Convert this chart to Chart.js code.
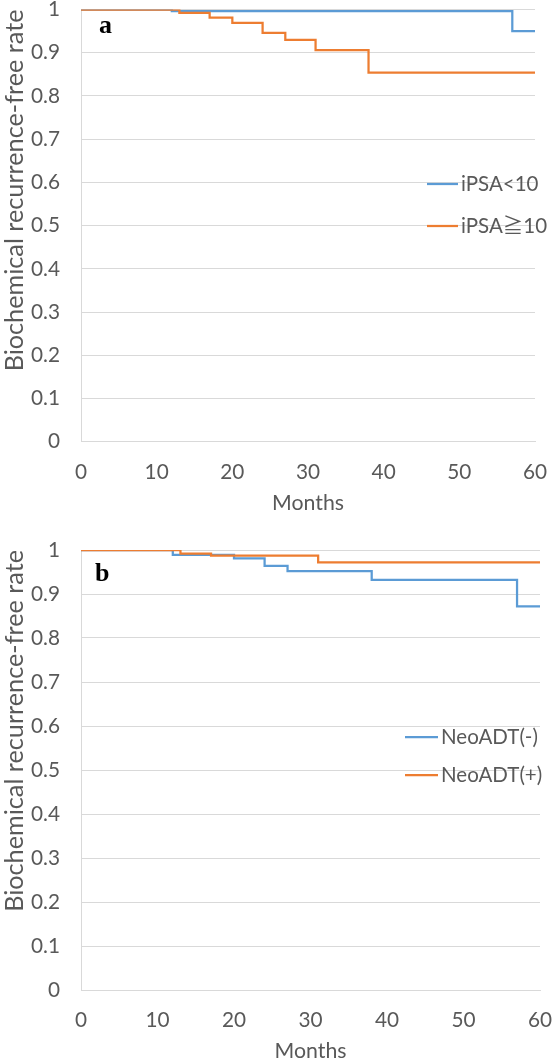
<!DOCTYPE html>
<html><head><meta charset="utf-8">
<script src="https://cdn.jsdelivr.net/npm/chart.js@4"></script>
<style>
html,body{margin:0;padding:0;background:#fff;}
#wa{position:absolute;left:0;top:0;width:554px;height:520px;}
#wb{position:absolute;left:0;top:520px;width:554px;height:541px;}
</style></head><body>
<div id="wa"><canvas id="ca"></canvas></div>
<div id="wb"><canvas id="cb"></canvas></div>
<script>
// ---- data ----
const xTickLabels = ['0', '10', '20', '30', '40', '50', '60'];
const yTickLabels = ['0', '0.1', '0.2', '0.3', '0.4', '0.5', '0.6', '0.7', '0.8', '0.9', '1'];

const monthsA1 = [0, 12, 57, 60];
const rateA1   = [1, 0.996, 0.95, 0.95];
const monthsA2 = [0, 13, 17, 20, 24, 27, 31, 38, 60];
const rateA2   = [1, 0.992, 0.981, 0.969, 0.946, 0.930, 0.906, 0.854, 0.854];

const monthsB1 = [0, 12, 20, 24, 27, 38, 57, 60];
const rateB1   = [1, 0.989, 0.981, 0.964, 0.952, 0.932, 0.872, 0.872];
const monthsB2 = [0, 13, 17, 31, 60];
const rateB2   = [1, 0.992, 0.987, 0.972, 0.972];

const seriesNamesA = ['iPSA<10', 'iPSA≧10'];
const seriesNamesB = ['NeoADT(-)', 'NeoADT(+)'];
const panelNames = ['a', 'b'];
const xTitle = 'Months';
const yTitle = 'Biochemical recurrence-free rate';

// ---- styling ----
const FONT = 'Lato, "Noto Sans CJK JP", sans-serif';
const TXT = '#595959';
const GRID = '#d9d9d9';
const BLUE = '#5B9BD5';
const ORANGE = '#ED7D31';

// font sizes chosen so text widths match the reference
const mctx = document.createElement('canvas').getContext('2d');
function fitSize(text, target) {
  mctx.font = '100px ' + FONT;
  return 100 * target / mctx.measureText(text).width;
}
const tickSize = fitSize('0.9', 29);
const legendSize = fitSize('NeoADT(-)', 97);
const xTitleSize = fitSize('Months', 72);
const yTitleSize = fitSize(yTitle, 362);

const toXY = (xs, ys) => xs.map((x, i) => ({x: x, y: ys[i]}));

const overlay = {
  id: 'overlay',
  afterDraw(chart, args, o) {
    const ctx = chart.ctx;
    ctx.save();
    ctx.font = 'bold 26px "Liberation Serif", serif';
    ctx.fillStyle = '#000';
    ctx.textBaseline = 'alphabetic';
    ctx.textAlign = 'left';
    ctx.fillText(o.panel, o.panelX, o.panelY);
    ctx.font = legendSize + 'px ' + FONT;
    ctx.textBaseline = 'middle';
    chart.data.datasets.forEach((ds, i) => {
      const y = o.legendY[i];
      ctx.strokeStyle = ds.borderColor;
      ctx.lineWidth = 2.25;
      ctx.beginPath();
      ctx.moveTo(o.lineX0, y);
      ctx.lineTo(o.lineX1, y);
      ctx.stroke();
      ctx.fillStyle = TXT;
      ctx.fillText(ds.label, o.textX, y);
    });
    ctx.restore();
  }
};

function makeChart(id, names, d1, d2, cfg) {
  return new Chart(document.getElementById(id), {
    type: 'line',
    data: {
      datasets: [
        {label: names[0], data: d1, borderColor: BLUE, backgroundColor: BLUE, stepped: true, order: 1},
        {label: names[1], data: d2, borderColor: ORANGE, backgroundColor: ORANGE, stepped: true, order: 0}
      ]
    },
    options: {
      responsive: true,
      maintainAspectRatio: false,
      animation: false,
      events: [],
      layout: {padding: {left: 0, right: cfg.padR, top: cfg.padT, bottom: 0}},
      elements: {point: {radius: 0}, line: {borderWidth: 2.25, tension: 0}},
      plugins: {
        legend: {display: false},
        tooltip: {enabled: false},
        overlay: cfg.overlay
      },
      scales: {
        x: {
          type: 'linear', min: 0, max: 60,
          ticks: {stepSize: 10, autoSkip: false, maxRotation: 0, padding: 30.3 - 0.6 * tickSize, color: TXT,
                  font: {family: FONT, size: tickSize}, callback: (v, i) => xTickLabels[i]},
          grid: {color: 'rgba(0,0,0,0)', drawTicks: false},
          border: {display: true, color: GRID, width: 1},
          title: {display: true, text: xTitle, color: TXT,
                  font: {family: FONT, size: xTitleSize, lineHeight: 1},
                  padding: {top: 0, bottom: cfg.xTitleGap - xTitleSize / 2}},
          afterFit(s) { s.height = cfg.xH; s.paddingLeft = 0; s.paddingRight = 0; }
        },
        y: {
          min: 0, max: 1,
          ticks: {stepSize: 0.1, padding: 21, color: TXT, font: {family: FONT, size: tickSize},
                  callback: (v, i) => yTickLabels[i]},
          grid: {color: GRID, drawTicks: false},
          border: {display: true, color: GRID, width: 1},
          title: {display: true, text: yTitle, color: TXT, align: 'end',
                  font: {family: FONT, size: yTitleSize, lineHeight: 1},
                  padding: {top: 15 - yTitleSize / 2, bottom: 0}},
          afterFit(s) { s.width = 81; s.paddingTop = 0; s.paddingBottom = 0; }
        }
      }
    },
    plugins: [overlay]
  });
}

makeChart('ca', seriesNamesA, toXY(monthsA1, rateA1), toXY(monthsA2, rateA2), {
  padR: 19, padT: 9.5, xH: 78.3, xTitleGap: 17,
  overlay: {panel: panelNames[0], panelX: 99, panelY: 33, legendY: [184, 226], lineX0: 427, lineX1: 458, textX: 461}
});
makeChart('cb', seriesNamesB, toXY(monthsB1, rateB1), toXY(monthsB2, rateB2), {
  padR: 14, padT: 30, xH: 71, xTitleGap: 10,
  overlay: {panel: panelNames[1], panelX: 95, panelY: 61, legendY: [217, 255], lineX0: 405, lineX1: 438, textX: 441}
});
</script>
</body></html>
